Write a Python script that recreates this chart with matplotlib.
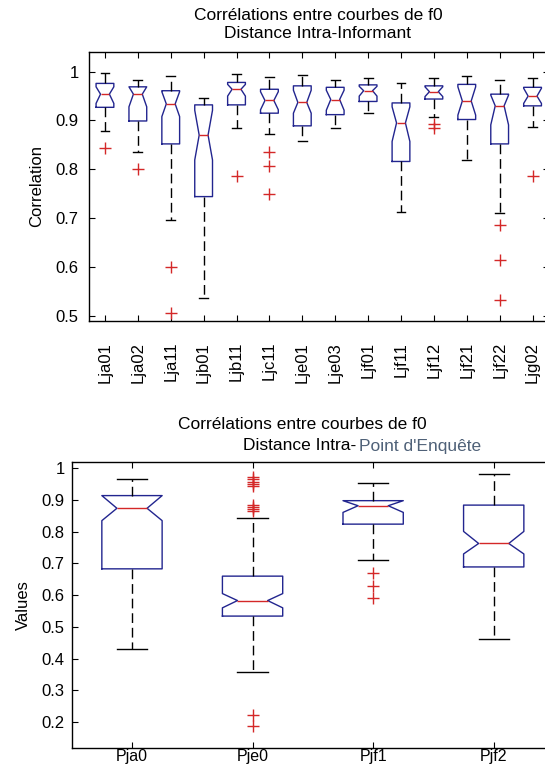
import matplotlib
matplotlib.use("Agg")
import matplotlib.pyplot as plt

plt.rcParams['font.family'] = ['Liberation Sans', 'DejaVu Sans']

# ---- top chart: intra-informant ----
top_labels = ["Lja01", "Lja02", "Lja11", "Ljb01", "Ljb11", "Ljc11", "Lje01",
              "Lje03", "Ljf01", "Ljf11", "Ljf12", "Ljf21", "Ljf22", "Ljg02"]
top_whishi = [0.997, 0.982, 0.991, 0.947, 0.995, 0.989, 0.993,
              0.982, 0.988, 0.976, 0.988, 0.991, 0.982, 0.988]
top_q3 = [0.976, 0.969, 0.961, 0.932, 0.978, 0.964, 0.971,
          0.968, 0.973, 0.936, 0.971, 0.974, 0.954, 0.968]
top_med = [0.954, 0.954, 0.934, 0.870, 0.964, 0.941, 0.937,
           0.943, 0.961, 0.895, 0.959, 0.940, 0.930, 0.950]
top_q1 = [0.927, 0.899, 0.852, 0.744, 0.932, 0.915, 0.889,
          0.912, 0.939, 0.816, 0.944, 0.902, 0.852, 0.930]
top_whislo = [0.878, 0.836, 0.697, 0.536, 0.884, 0.873, 0.858,
              0.884, 0.916, 0.713, 0.908, 0.818, 0.711, 0.887]
top_cihi = [0.969, 0.969, 0.959, 0.921, 0.974, 0.959, 0.962,
            0.962, 0.970, 0.928, 0.969, 0.969, 0.952, 0.966]
top_cilo = [0.935, 0.928, 0.908, 0.819, 0.950, 0.922, 0.915,
            0.921, 0.950, 0.857, 0.949, 0.911, 0.891, 0.935]
top_fliers = [[0.844], [0.800], [0.600, 0.506], [], [0.786],
              [0.836, 0.807, 0.749], [], [], [], [], [0.893, 0.884], [],
              [0.686, 0.614, 0.532], [0.786]]

# ---- bottom chart: intra point d'enquete ----
bot_labels = ["Pja0", "Pje0", "Pjf1", "Pjf2"]
bot_whishi = [0.966, 0.842, 0.953, 0.982]
bot_q3 = [0.914, 0.660, 0.898, 0.884]
bot_med = [0.874, 0.583, 0.882, 0.763]
bot_q1 = [0.683, 0.534, 0.824, 0.689]
bot_whislo = [0.429, 0.358, 0.712, 0.463]
bot_cihi = [0.914, 0.605, 0.898, 0.801]
bot_cilo = [0.835, 0.560, 0.861, 0.730]
bot_fliers = [[],
              [0.974, 0.966, 0.958, 0.951, 0.944, 0.885, 0.878, 0.871, 0.864,
               0.222, 0.188],
              [0.670, 0.628, 0.592],
              []]

blue = '#22258f'
red = '#d42828'


def make_stats(labels, whishi, q3, med, q1, whislo, cihi, cilo, fliers):
  stats = []
  for i in range(len(labels)):
    stats.append(dict(label=labels[i], whishi=whishi[i], q3=q3[i], med=med[i],
                      q1=q1[i], whislo=whislo[i], cihi=cihi[i], cilo=cilo[i],
                      fliers=fliers[i]))
  return stats


def draw(ax, stats, width):
  ax.bxp(stats, positions=range(1, len(stats) + 1), widths=width,
         shownotches=True,
         boxprops=dict(color=blue, linewidth=1),
         medianprops=dict(color=red, linewidth=1),
         whiskerprops=dict(color='k', linewidth=1, linestyle=(0, (7, 3.5))),
         capprops=dict(color='k', linewidth=1),
         flierprops=dict(marker='+', markeredgecolor=red, markersize=8,
                         linestyle='none', markeredgewidth=1))
  ax.set_xlim(0.5, len(stats) + 0.5)
  ax.tick_params(direction='in', length=4, top=True, right=True,
                 labelsize=12, colors='k')
  for s in ax.spines.values():
    s.set_linewidth(1)


fig = plt.figure(figsize=(5.45, 7.64), dpi=100)
W, H = 545., 764.

# top axes
ax1 = fig.add_axes([88.5 / W, 1 - 321 / H, (549 - 88.5) / W, (321 - 51.7) / H])
draw(ax1, make_stats(top_labels, top_whishi, top_q3, top_med, top_q1,
                     top_whislo, top_cihi, top_cilo, top_fliers), 0.54)
ax1.set_ylim(0.489, 1.041)
ax1.set_yticks([0.5, 0.6, 0.7, 0.8, 0.9, 1])
ax1.set_yticklabels(["0.5", "0.6", "0.7", "0.8", "0.9", "1"])
ax1.tick_params(axis='y', pad=7)
ax1.tick_params(axis='x', pad=15)
ax1.set_xticklabels(top_labels, rotation=90, va='top')
ax1.set_ylabel("Correlation", fontsize=12, labelpad=8)

fig.text(318 / W, 1 - 15 / H, "Corrélations entre courbes de f0",
         ha='center', va='center', fontsize=12.5)
fig.text(318 / W, 1 - 34 / H, "Distance Intra-Informant",
         ha='center', va='center', fontsize=12.5)

# bottom axes
ax2 = fig.add_axes([71.7 / W, 1 - 748 / H, (554 - 71.7) / W, (748 - 462.3) / H])
draw(ax2, make_stats(bot_labels, bot_whishi, bot_q3, bot_med, bot_q1,
                     bot_whislo, bot_cihi, bot_cilo, bot_fliers), 0.5)
ax2.set_ylim(0.118, 1.019)
ax2.set_yticks([0.2, 0.3, 0.4, 0.5, 0.6, 0.7, 0.8, 0.9, 1])
ax2.set_yticklabels(["0.2", "0.3", "0.4", "0.5", "0.6", "0.7", "0.8", "0.9", "1"])
ax2.tick_params(axis='y', pad=5)
ax2.tick_params(axis='x', pad=1, labelsize=11.5)
ax2.set_ylabel("Values", fontsize=12, labelpad=8)

fig.text(302 / W, 1 - 425 / H, "Corrélations entre courbes de f0",
         ha='center', va='center', fontsize=12.5)
fig.text(356 / W, 1 - 446 / H, "Distance Intra-",
         ha='right', va='center', fontsize=12.5)
fig.text(359 / W, 1 - 446 / H, "Point d'Enquête",
         ha='left', va='center', fontsize=12.5, color='#4f6178')

fig.savefig("out.png", dpi=100)
